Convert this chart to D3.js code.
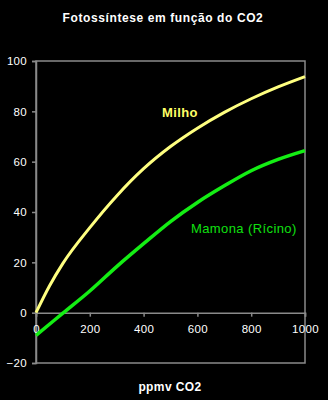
<!DOCTYPE html>
<html><head><meta charset="utf-8">
<script src="https://cdn.jsdelivr.net/npm/d3@7"></script>
<style>html,body{margin:0;padding:0;background:#000;}svg{display:block;}</style>
</head><body>
<script>
const co2 = [0, 50, 100, 200, 300, 400, 500, 600, 700, 800, 900, 1000];
const milho = [0, 10.6, 19.6, 33.8, 46.4, 57.2, 66, 73.3, 79.6, 85, 89.7, 93.8];
const mamonaX = [0, 100, 200, 300, 400, 500, 600, 700, 800, 900, 1000];
const mamona = [-9, -0.2, 8.6, 18.3, 27.4, 36.2, 43.8, 50.4, 56.4, 60.9, 64.4];
const xTicks = [0, 200, 400, 600, 800, 1000];
const yTicks = [-20, 0, 20, 40, 60, 80, 100];
const title = "Fotossíntese em função do CO2";
const xTitle = "ppmv CO2";
const seriesNames = ["Milho", "Mamona (Rícino)"];

const W = 328, H = 400;
const svg = d3.select("body").append("svg").attr("width", W).attr("height", H)
  .style("background", "#000");
const font = "Arial, 'Liberation Sans', sans-serif";
const x = d3.scaleLinear().domain([0, 1000]).range([36, 305]);
const y = d3.scaleLinear().domain([-20, 100]).range([363, 61]);
const grey = "#8a8a8a";

// frame
svg.append("rect").attr("x", x(0)).attr("y", y(100)).attr("width", x(1000) - x(0))
  .attr("height", y(-20) - y(100)).attr("fill", "none").attr("stroke", grey).attr("stroke-width", 1.5);

// y axis
const yAxis = svg.append("g").attr("transform", `translate(${x(0)},0)`)
  .call(d3.axisLeft(y).tickValues(yTicks).tickSize(4).tickPadding(5).tickFormat(d3.format("d")));
yAxis.select(".domain").attr("stroke", grey).attr("stroke-width", 1.5);
yAxis.selectAll(".tick line").attr("stroke", grey).attr("stroke-width", 1.5);
yAxis.selectAll(".tick text").attr("fill", "#fff").style("font-family", font)
  .style("font-size", "11.5px").style("letter-spacing", "0.3px");

// x axis at zero
const xAxis = svg.append("g").attr("transform", `translate(0,${y(0)})`)
  .call(d3.axisBottom(x).tickValues(xTicks).tickSize(4).tickPadding(8).tickFormat(d3.format("d")));
xAxis.select(".domain").attr("stroke", grey).attr("stroke-width", 1.5);
xAxis.selectAll(".tick line").attr("stroke", grey).attr("stroke-width", 1.5);
xAxis.selectAll(".tick text").attr("fill", "#fff").style("font-family", font)
  .style("font-size", "11.5px").style("letter-spacing", "0.3px");

// lines
const line = d3.line().x(d => x(d[0])).y(d => y(d[1])).curve(d3.curveMonotoneX);
svg.append("path").datum(co2.map((c, i) => [c, milho[i]]))
  .attr("d", line).attr("fill", "none").attr("stroke", "#ffff80").attr("stroke-width", 3);
svg.append("path").datum(mamonaX.map((c, i) => [c, mamona[i]]))
  .attr("d", line).attr("fill", "none").attr("stroke", "#14ee14").attr("stroke-width", 3.5);

// labels
svg.append("text").attr("x", 162).attr("y", 117).text(seriesNames[0])
  .attr("fill", "#ffff66").style("font-family", font).style("font-weight", "bold")
  .style("font-size", "13px").style("letter-spacing", "0.4px");
svg.append("text").attr("x", 191).attr("y", 233).text(seriesNames[1])
  .attr("fill", "#10e010").style("font-family", font)
  .style("font-size", "13px").style("letter-spacing", "0.4px");

// title
svg.append("text").attr("x", 163).attr("y", 21.5).attr("text-anchor", "middle").text(title)
  .attr("fill", "#fff").style("font-family", font).style("font-weight", "bold")
  .style("font-size", "12px").style("letter-spacing", "0.6px");
svg.append("text").attr("x", 170).attr("y", 391).attr("text-anchor", "middle").text(xTitle)
  .attr("fill", "#fff").style("font-family", font).style("font-weight", "bold")
  .style("font-size", "12px").style("letter-spacing", "0.4px");
</script>
</body></html>
